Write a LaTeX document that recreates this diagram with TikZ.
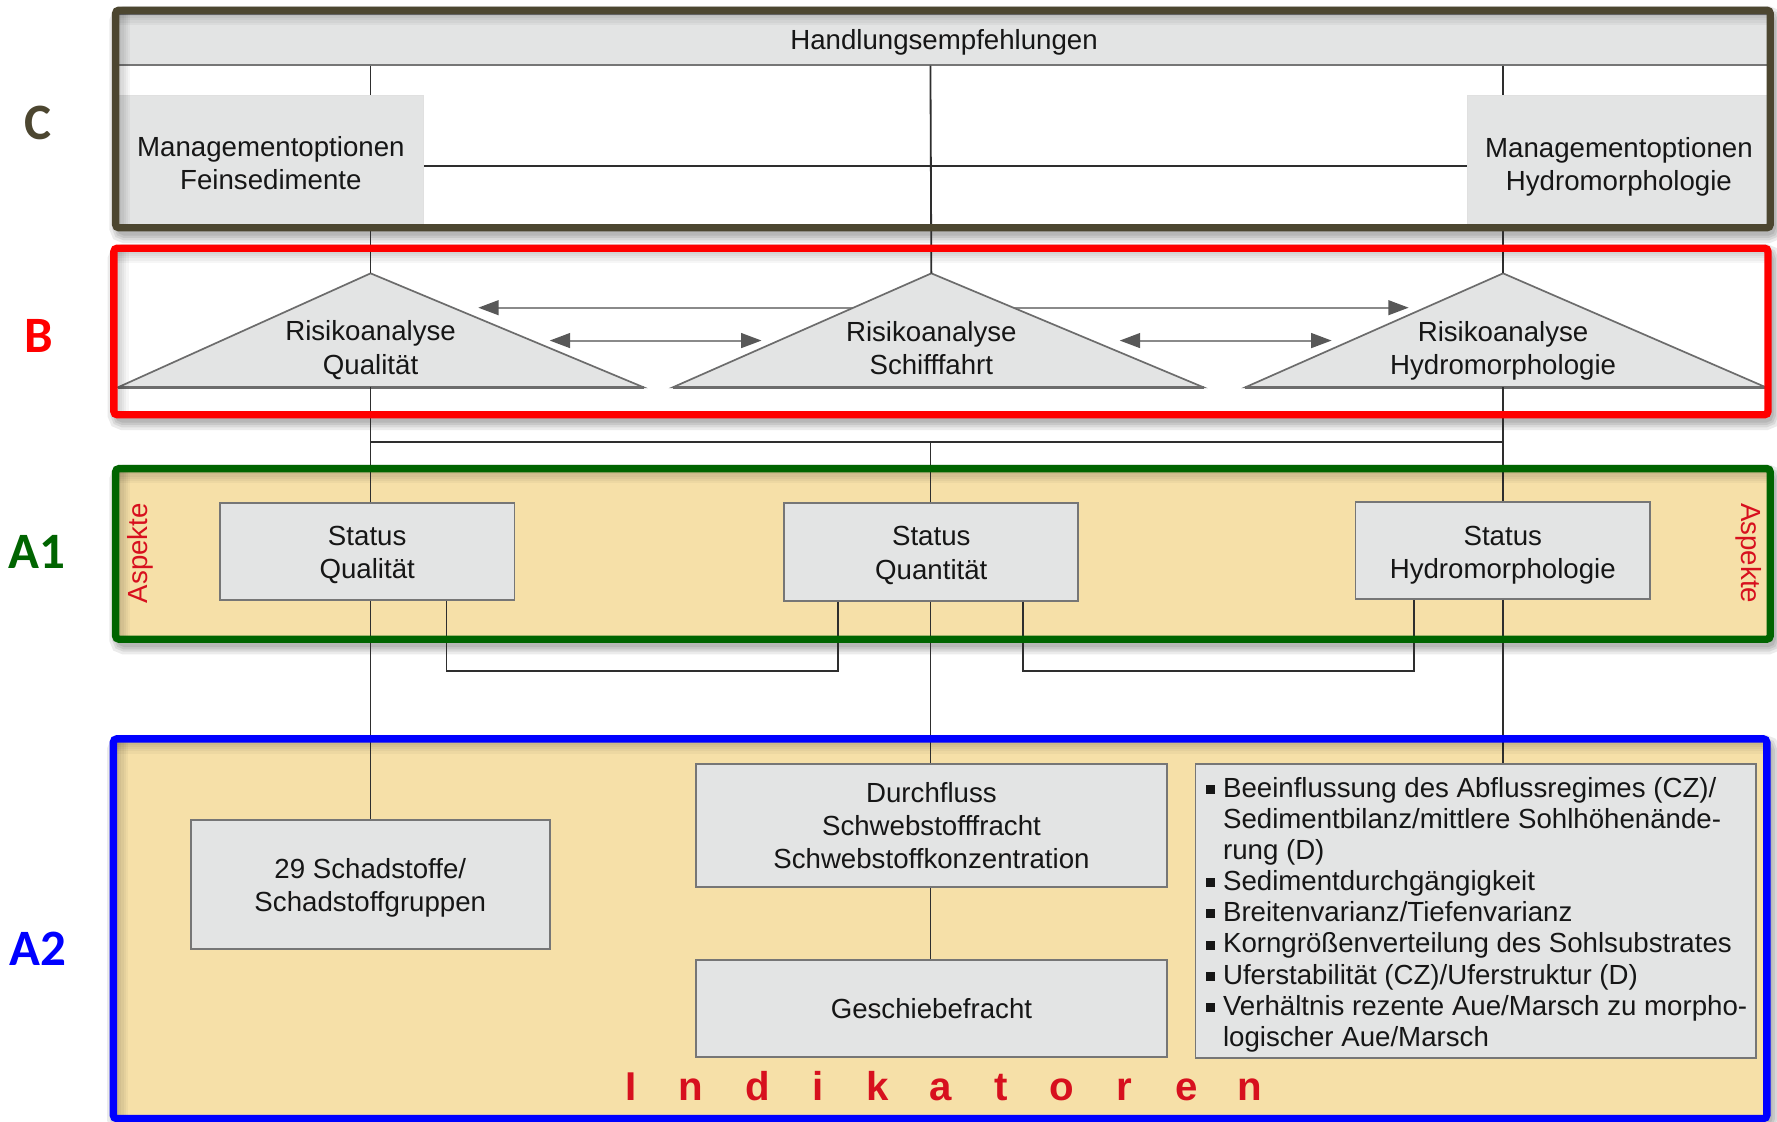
\documentclass[tikz,border=0pt]{standalone}
\usepackage{fontspec}
\setmainfont{Liberation Sans}
\newfontfamily\tagfont{Carlito}
\usetikzlibrary{arrows.meta}

\definecolor{boxgray}{HTML}{E3E4E4}
\definecolor{boxedge}{HTML}{767676}
\definecolor{wire}{HTML}{2E2E2E}
\definecolor{wheat}{HTML}{F6E0A8}
\definecolor{olive}{HTML}{4C4630}
\definecolor{framered}{HTML}{FF0000}
\definecolor{framegreen}{HTML}{006400}
\definecolor{frameblue}{HTML}{0000FF}
\definecolor{signal}{HTML}{D7101E}
\definecolor{ink}{HTML}{161616}
\definecolor{arrowgray}{HTML}{8A8A8A}
\definecolor{headgray}{HTML}{585858}
\definecolor{trigray}{HTML}{6C6C6C}

% square list bullet hanging left of the text start
\newcommand{\sqbullet}{\llap{\rule[3pt]{8pt}{8pt}\hspace{7pt}}}
% invisible strut that sets the height of a first text line
\newcommand{\toprule}[1]{\rule{0pt}{#1pt}}
% soft drop shadow below a frame (x1,y1,x2,y2 of the frame line)
\newcommand{\dropshade}[4]{%
  \foreach \w in {17,12,8,4}
    \draw[draw=black, opacity=0.08, line width=\w pt, rounded corners=5pt]
      (#1+3,#2+5) rectangle (#3+3,#4+5);}
% faint inner shade along the top and left inside edges of a frame
\newcommand{\innershade}[4]{%
  \foreach \k in {1,...,5}{%
    \fill[black, opacity=0.035] (#1,#2) rectangle (#3,#2+3+2*\k);
    \fill[black, opacity=0.035] (#1,#2) rectangle (#1+3+2*\k,#4);}}

\begin{document}
\begin{tikzpicture}[x=1pt,y=-1pt,
  txt/.style={font=\fontsize{24.4}{29.4}\selectfont, text=ink, align=center, inner sep=0pt},
  listline/.style={font=\fontsize{24.4}{27.5}\selectfont, text=ink, inner sep=0pt, anchor=base west},
  graybox/.style={draw=boxedge, line width=1.6pt, fill=boxgray, inner sep=0pt},
  softbox/.style={draw=black!12, line width=1pt, fill=boxgray, inner sep=0pt},
  wireline/.style={draw=wire, line width=1.6pt},
  duplex/.style={draw=arrowgray, line width=1.8pt,
     {Triangle[length=18pt,width=13pt,color=headgray]}-{Triangle[length=18pt,width=13pt,color=headgray]}},
  tri/.style={draw=trigray, line width=1.5pt, fill=boxgray, line join=miter},
  frameline/.style={line width=6.5pt, rounded corners=3pt},
  tag/.style={font=\tagfont\bfseries\fontsize{45}{45}\selectfont, inner sep=0pt},
  aspect/.style={font=\fontsize{24.4}{29}\selectfont, text=signal, inner sep=0pt},
  indi/.style={font=\bfseries\fontsize{35.5}{36}\selectfont, text=signal, inner sep=0pt, anchor=base},
]
\useasboundingbox (0,0) rectangle (1568,990);
\fill[white] (0,0) rectangle (1568,990);

% ---- frame shadows and backgrounds
\dropshade{102}{9}{1562}{201}
\dropshade{100.5}{219}{1560}{366}
\dropshade{102}{413.5}{1562}{564}
\dropshade{100}{652}{1559}{987}
\fill[white] (102,9) rectangle (1562,201);
\fill[white] (100.5,219) rectangle (1560,366);
\fill[wheat] (102,413.5) rectangle (1562,564);
\fill[wheat] (100,652) rectangle (1559,987);

% ---- mutual risk arrows (behind the triangles)
\coordinate (upL) at (422,271.5);  \coordinate (upR) at (1243,271.5);
\coordinate (loL1) at (485,300.5); \coordinate (loR1) at (672,300.5);
\coordinate (loL2) at (988,300.5); \coordinate (loR2) at (1175,300.5);
\draw[duplex] (upL) -- (upR);
\draw[duplex] (loL1) -- (loR1);
\draw[duplex] (loL2) -- (loR2);

% ---- risk analysis triangles
\foreach \nm/\ax/\bl/\br in {Q/327/104/568, S/821.8/593.6/1062, H/1326.3/1098.7/1558.3}{
  \coordinate (apex\nm) at (\ax,241.2);
  \coordinate (baseL\nm) at (\bl,341.8);
  \coordinate (baseR\nm) at (\br,341.8);
  \filldraw[tri] (baseL\nm) -- (apex\nm) -- (baseR\nm) -- cycle;
  \draw[draw=trigray, line width=2.4pt] (baseL\nm) -- (baseR\nm);
}
\node[txt] (riskQ) at (327,309) {Risikoanalyse\\Qualität};
\node[txt] (riskS) at (821.8,307) {Risikoanalyse\\Schifffahrt};
\node[txt] (riskH) at (1326.3,309.5) {Risikoanalyse\\Hydromorphologie};

% ---- level C
\node[graybox, txt, minimum width=1458pt, minimum height=45pt] (hand) at (833,34.5) {\toprule{23.7}Handlungsempfehlungen};
\node[softbox, txt, minimum width=270pt, minimum height=114pt] (mgF) at (239,141) {\toprule{23.7}Managementoptionen\\Feinsedimente};
\node[softbox, txt, minimum width=267pt, minimum height=114pt] (mgH) at (1428.5,141) {\toprule{29.7}Managementoptionen\\Hydromorphologie};

% ---- level A1
\node[graybox, txt, minimum width=260pt, minimum height=86pt] (stQ) at (324,486.5) {\toprule{23.7}Status\\Qualität};
\node[graybox, txt, minimum width=259.5pt, minimum height=86.4pt] (stQn) at (821.75,486.8) {\toprule{23.7}Status\\Quantität};
\node[graybox, txt, minimum width=260pt, minimum height=85.8pt] (stH) at (1326,485.6) {\toprule{25.7}Status\\Hydromorphologie};

% ---- level A2
\node[graybox, txt, minimum width=317pt, minimum height=114pt] (schad) at (326.75,780.5) {\toprule{23.7}29 Schadstoffe/\\Schadstoffgruppen};
\node[graybox, txt, minimum width=416pt, minimum height=108pt] (durch) at (821.9,728.4) {Durchfluss\\Schwebstofffracht\\Schwebstoffkonzentration};
\node[graybox, txt, minimum width=416pt, minimum height=86pt] (gesch) at (821.9,890) {Geschiebefracht};
\node[graybox, minimum width=494.7pt, minimum height=259.4pt] (list) at (1302.15,804.1) {};
\foreach \line [count=\n] in {
    \sqbullet Beeinflussung des Abflussregimes (CZ)/,
    Sedimentbilanz/mittlere Sohlhöhenände-,
    rung (D),
    \sqbullet Sedimentdurchgängigkeit,
    \sqbullet Breitenvarianz/Tiefenvarianz,
    \sqbullet Korngrößenverteilung des Sohlsubstrates,
    \sqbullet Uferstabilität (CZ)/Uferstruktur (D),
    \sqbullet Verhältnis rezente Aue/Marsch zu morpho-,
    logischer Aue/Marsch}
  \node[listline] (li\n) at (1079,{703.6+(\n-1)*27.46}) {\line};

% ---- connectors
\coordinate (colQ) at (327,0);   \coordinate (colS) at (821,0);   \coordinate (colH) at (1326.3,0);
\coordinate (midY) at (0,146.5); \coordinate (busY) at (0,389.7); \coordinate (lowY) at (0,591.8);
\coordinate (tapQ) at (394,0);   \coordinate (tapSl) at (739.5,0);
\coordinate (tapSr) at (902.6,0); \coordinate (tapH) at (1248,0);

\draw[wireline] (colQ |- hand.south) -- (colQ |- mgF.north);
\draw[wireline] (colH |- hand.south) -- (colH |- mgH.north);
\draw[wireline] (colS |- hand.south) -- (apexS);
\draw[wireline] (mgF.east |- midY) -- (mgH.west |- midY);
\draw[wireline] (colQ |- mgF.south) -- (apexQ);
\draw[wireline] (colH |- mgH.south) -- (apexH);
\draw[wireline] (colQ |- baseLQ) -- (colQ |- stQ.north);
\draw[wireline] (colH |- baseLH) -- (colH |- stH.north);
\draw[wireline] (colQ |- busY) -- (colH |- busY);
\draw[wireline] (colS |- busY) -- (colS |- stQn.north);
\draw[wireline] (colQ |- stQ.south) -- (colQ |- schad.north);
\draw[wireline] (tapQ |- stQ.south) -- (tapQ |- lowY) -- (tapSl |- lowY) -- (tapSl |- stQn.south);
\draw[wireline] (colS |- stQn.south) -- (colS |- durch.north);
\draw[wireline] (tapSr |- stQn.south) -- (tapSr |- lowY) -- (tapH |- lowY) -- (tapH |- stH.south);
\draw[wireline] (colH |- stH.south) -- (colH |- list.north);
\draw[wireline] (colS |- durch.south) -- (colS |- gesch.north);

% ---- inner shading and frame lines
\innershade{102}{9}{1562}{201}
\innershade{100.5}{219}{1560}{366}
\innershade{102}{413.5}{1562}{564}
\innershade{100}{652}{1559}{987}
\draw[frameline, olive] (102,9) rectangle (1562,201);
\draw[frameline, framered] (100.5,219) rectangle (1560,366);
\draw[frameline, framegreen] (102,413.5) rectangle (1562,564);
\draw[frameline, frameblue] (100,652) rectangle (1559,987);

% ---- level tags
\node[tag, text=olive] (tagC) at (33.8,108.8) {C};
\node[tag, text=framered] (tagB) at (33.8,296.3) {B};
\node[tag, text=framegreen] (tagA1) at (32.9,486.8) {A1};
\node[tag, text=frameblue] (tagA2) at (33.2,837.2) {A2};

% ---- side and bottom captions
\node[aspect, rotate=90] (aspL) at (123.5,488.2) {Aspekte};
\node[aspect, rotate=-90] (aspR) at (1543,488.2) {Aspekte};
\foreach \ch/\xx [count=\n] in {I/556.5, n/609.6, d/668.7, i/721.9, k/774.3, a/830, t/883, o/937, r/992, e/1047.5, n/1102.7}
  \node[indi] (ind\n) at (\xx,971) {\ch};
\end{tikzpicture}
\end{document}
